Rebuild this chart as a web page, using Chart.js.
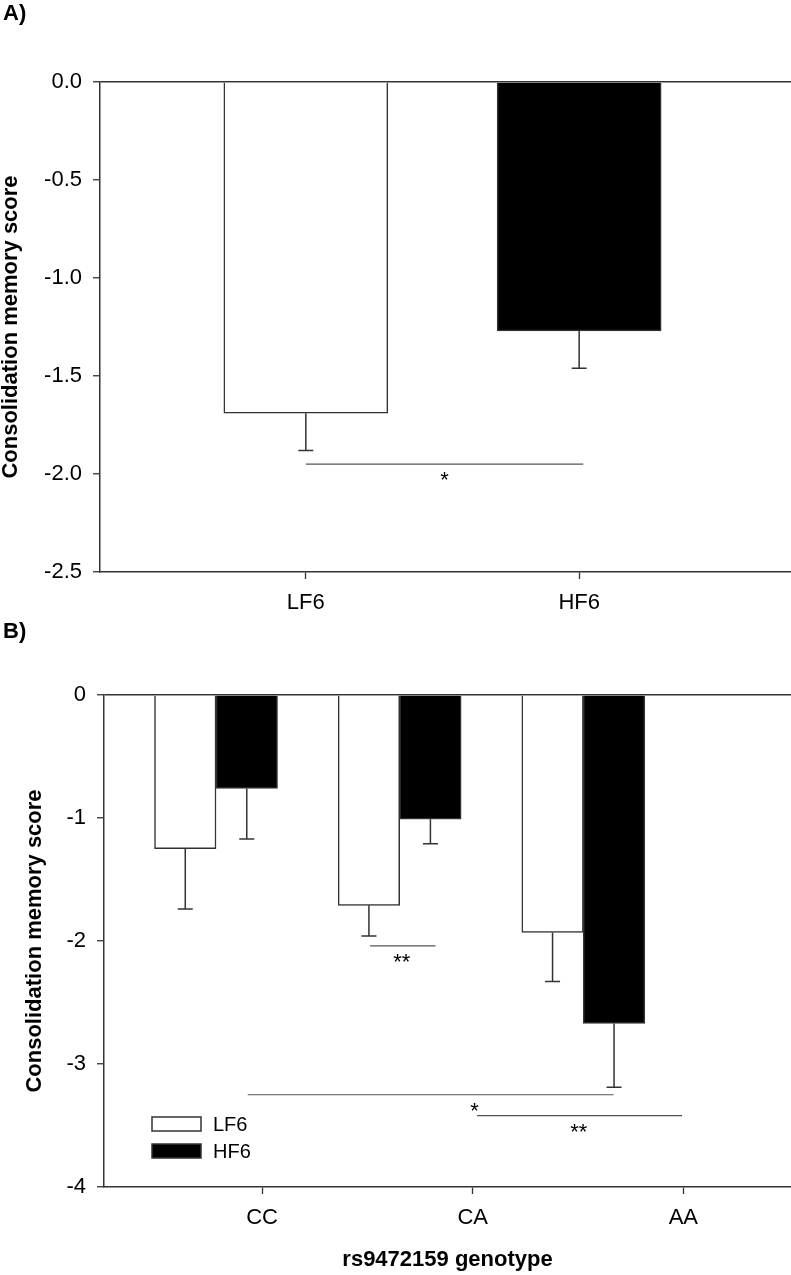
<!DOCTYPE html>
<html>
<head>
<meta charset="utf-8">
<title>Consolidation memory score</title>
<script src="https://cdn.jsdelivr.net/npm/chart.js@4.4.1/dist/chart.umd.min.js"></script>
<style>
    body { margin: 0; background: #fff; }
    #page { position: relative; width: 791px; height: 1275px; font-family: "Liberation Sans", Arial, sans-serif; }
    canvas { position: absolute; left: 0; }
    .panel-tag { position: absolute; left: 3px; font-size: 22px; font-weight: bold; line-height: 22px; }
</style>
</head>
<body>
<div id="page">
    <canvas id="chartA" width="791" height="640" style="top:0"></canvas>
    <canvas id="chartB" width="791" height="635" style="top:640px"></canvas>
    <div class="panel-tag" style="top:2px">A)</div>
    <div class="panel-tag" style="top:620px">B)</div>
</div>
<script>
// Panel A: score per diet group
const dietGroups = ["LF6", "HF6"];
const dietMeans = [-1.69, -1.27];
const dietErrors = [0.19, 0.19];
const dietColors = ["#ffffff", "#000000"];

// Panel B: score per rs9472159 genotype
const genotypes = ["CC", "CA", "AA"];
const lf6Means = [-1.25, -1.71, -1.93];
const lf6Errors = [0.49, 0.25, 0.40];
const hf6Means = [-0.76, -1.01, -2.67];
const hf6Errors = [0.41, 0.20, 0.52];

// significance brackets, in bar-axis units
const sigA = [{ from: 1.0, to: 2.015, y: -1.95, text: "*", at: 1.507 }];
const sigB = [
    { from: 1.839, to: 2.195, y: -2.04, text: "**", at: 2.012 },
    { from: 1.173, to: 3.165, y: -3.25, text: "*", at: 2.408 },
    { from: 2.421, to: 3.538, y: -3.42, text: "**", at: 2.975 }
];

const FONT = '"Liberation Sans", Arial, sans-serif';
const INK = "#333";

Chart.defaults.font.family = FONT;
Chart.defaults.font.size = 22;
Chart.defaults.color = "#000";

// one-sided (downward) error bars
const errorBars = {
    id: "errorBars",
    afterDatasetsDraw(chart)
    {
        const ctx = chart.ctx;
        const yScale = chart.scales.y;
        ctx.save();
        ctx.strokeStyle = INK;
        ctx.lineWidth = 1.5;
        chart.data.datasets.forEach((ds, i) =>
        {
            chart.getDatasetMeta(i).data.forEach((bar, j) =>
            {
                const tip = yScale.getPixelForValue(ds.data[j].y - ds.errors[j]);
                ctx.beginPath();
                ctx.moveTo(bar.x, bar.y);
                ctx.lineTo(bar.x, tip);
                ctx.moveTo(bar.x - 7.5, tip);
                ctx.lineTo(bar.x + 7.5, tip);
                ctx.stroke();
            });
        });
        ctx.restore();
    }
};

function sigLines(items)
{
    return {
        id: "sigLines",
        afterDatasetsDraw(chart)
        {
            const { ctx, scales } = chart;
            const xScale = scales.x;
            const yScale = scales.y;
            ctx.save();
            ctx.strokeStyle = "#555";
            ctx.lineWidth = 1.2;
            ctx.fillStyle = "#000";
            ctx.font = "22px " + FONT;
            ctx.textAlign = "center";
            ctx.textBaseline = "alphabetic";
            items.forEach(item =>
            {
                const py = yScale.getPixelForValue(item.y);
                ctx.beginPath();
                ctx.moveTo(xScale.getPixelForValue(item.from), py);
                ctx.lineTo(xScale.getPixelForValue(item.to), py);
                ctx.stroke();
                ctx.fillText(item.text, xScale.getPixelForValue(item.at), py + 23);
            });
            ctx.restore();
        }
    };
}

// legend boxes inside the plot, lower left
const boxLegend = {
    id: "boxLegend",
    afterDraw(chart)
    {
        const { ctx, chartArea } = chart;
        ctx.save();
        ctx.font = "20px " + FONT;
        ctx.textAlign = "left";
        ctx.textBaseline = "middle";
        chart.data.datasets.forEach((ds, i) =>
        {
            const left = chartArea.left + 48;
            const top = chartArea.bottom - 70 + i * 27;
            ctx.fillStyle = ds.backgroundColor;
            ctx.fillRect(left, top, 49, 14);
            ctx.strokeStyle = INK;
            ctx.lineWidth = 1.5;
            ctx.strokeRect(left, top, 49, 14);
            ctx.fillStyle = "#000";
            ctx.fillText(ds.label, left + 61, top + 8);
        });
        ctx.restore();
    }
};

function valueAxis(min, stepSize, decimals, width, titlePad)
{
    return {
        min,
        max: 0,
        z: 1,
        ticks: {
            stepSize,
            padding: 11,
            callback: v => v.toFixed(decimals)
        },
        grid: {
            color: c => (c.tick && c.tick.value === 0) ? INK : "rgba(0,0,0,0)",
            lineWidth: 1.5,
            tickLength: 7,
            tickColor: INK,
            tickWidth: 1.3
        },
        border: { color: INK, width: 1.5 },
        title: {
            display: true,
            text: "Consolidation memory score",
            font: { size: 22, weight: "bold", lineHeight: 1 },
            padding: { top: titlePad, bottom: 0 }
        },
        afterFit: s => { s.width = width; }
    };
}

function labelAxis(labels, min, max, height, extra)
{
    return Object.assign({
        type: "linear",
        position: "bottom",
        min,
        max,
        bounds: "data",
        offset: false,
        afterBuildTicks: s => { s.ticks = labels.map((_, i) => ({ value: i + 1 })); },
        ticks: {
            autoSkip: false,
            maxRotation: 0,
            padding: 11,
            callback: (v, i) => labels[i]
        },
        grid: { drawOnChartArea: false, offset: false, tickLength: 7, tickColor: INK, tickWidth: 1.3 },
        border: { color: INK, width: 1.5 },
        afterFit: s => { s.height = height; }
    }, extra || {});
}

new Chart(document.getElementById("chartA"), {
    type: "bar",
    data: {
        datasets: [{
            data: dietGroups.map((g, i) => ({ x: i + 1, y: dietMeans[i] })),
            errors: dietErrors,
            backgroundColor: dietColors,
            borderColor: INK,
            borderWidth: 1.5,
            barThickness: 164
        }]
    },
    options: {
        responsive: false,
        animation: false,
        layout: { padding: { top: 82, left: 0, right: 0, bottom: 0 } },
        scales: {
            x: labelAxis(dietGroups, 0.247, 2.775, 68),
            y: valueAxis(-2.5, 0.5, 1, 100, 0)
        },
        plugins: {
            legend: { display: false },
            tooltip: { enabled: false }
        }
    },
    plugins: [errorBars, sigLines(sigA)]
});

new Chart(document.getElementById("chartB"), {
    type: "bar",
    data: {
        datasets: [
            {
                label: "LF6",
                data: genotypes.map((g, i) => ({ x: i + 1, y: lf6Means[i] })),
                errors: lf6Errors,
                backgroundColor: "#ffffff",
                borderColor: INK,
                borderWidth: 1.5,
                barThickness: 61.5
            },
            {
                label: "HF6",
                data: genotypes.map((g, i) => ({ x: i + 1, y: hf6Means[i] })),
                errors: hf6Errors,
                backgroundColor: "#000000",
                borderColor: INK,
                borderWidth: 1.5,
                barThickness: 61.5
            }
        ]
    },
    options: {
        responsive: false,
        animation: false,
        layout: { padding: { top: 55, left: 0, right: 0, bottom: 0 } },
        scales: {
            // bars sit on this hidden axis, the genotype ticks on xg
            x: { type: "linear", display: false, min: 0.39, max: 4.131, bounds: "data", offset: false },
            xg: labelAxis(genotypes, 0.2493, 3.511, 88, {
                title: {
                    display: true,
                    text: "rs9472159 genotype",
                    font: { size: 22, weight: "bold", lineHeight: 1 },
                    padding: { top: 0, bottom: 4.5 }
                }
            }),
            y: valueAxis(-4, 1, 0, 104, 24)
        },
        plugins: {
            legend: { display: false },
            tooltip: { enabled: false }
        }
    },
    plugins: [errorBars, sigLines(sigB), boxLegend]
});
</script>
</body>
</html>
